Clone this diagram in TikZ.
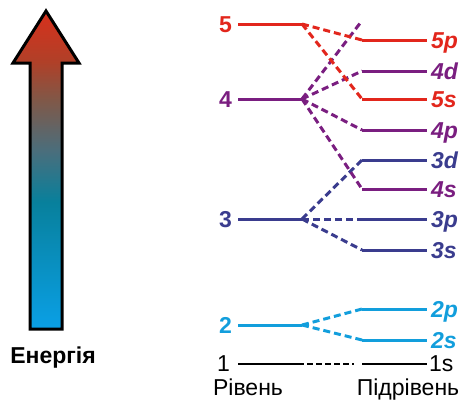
\documentclass[tikz,border=0pt]{standalone}
\usepackage{fontspec}
\setmainfont{Liberation Sans}
\definecolor{cred}{HTML}{E2261C}
\definecolor{cpur}{HTML}{7A1E80}
\definecolor{cdbl}{HTML}{3A3C8E}
\definecolor{clbl}{HTML}{129EDC}
\definecolor{ebot}{HTML}{0AA0E6}
\definecolor{eteal}{HTML}{08809C}
\definecolor{egrey}{HTML}{4A6E7C}
\definecolor{ebrown}{HTML}{805848}
\definecolor{ered2}{HTML}{B04028}
\definecolor{etop}{HTML}{D8301C}
\pgfdeclareverticalshading{energy}{100bp}{color(0bp)=(ebot); color(25bp)=(ebot); color(45bp)=(eteal); color(53bp)=(egrey); color(61bp)=(ebrown); color(67bp)=(ered2); color(75bp)=(etop); color(100bp)=(etop)}
\tikzset{
  lvl/.style={line width=3pt},
  conn/.style={line width=3pt, dash pattern=on 7pt off 4pt},
  lvllab/.style={anchor=base east, inner sep=0pt, font=\fontsize{23}{27}\selectfont\bfseries},
  sublab/.style={anchor=base west, inner sep=0pt, font=\fontsize{23}{27}\selectfont\bfseries\itshape},
  plainlab/.style={inner sep=0pt, font=\fontsize{23}{27}\selectfont},
}
\begin{document}
\begin{tikzpicture}[x=1pt,y=-1pt]
\useasboundingbox (0,0) rectangle (462,400);
% energy arrow
\shade[shading=energy] (46,11) -- (79,63) -- (62,63) -- (62,329) -- (30,329) -- (30,63) -- (13,63) -- cycle;
\draw[line width=3pt, miter limit=10] (46,11) -- (79,63) -- (62,63) -- (62,329) -- (30,329) -- (30,63) -- (13,63) -- cycle;
\node[plainlab, anchor=base, font=\fontsize{23}{27}\selectfont\bfseries] (energy) at (53,363) {Енергія};

% level coordinates
\foreach \n/\y in {5/24,4/99,3/219,2/325,1/364} {
  \coordinate (l\n a) at (238,\y);
  \coordinate (l\n b) at (302,\y);
}
\foreach \n/\y in {5p/40,4d/71,5s/99,4p/130,3d/160,4s/189,3p/219,3s/250,2p/309,2s/340,1s/364} {
  \coordinate (s\n a) at (362,\y);
  \coordinate (s\n b) at (427,\y);
}
\coordinate (s4f) at (361,22);

% level labels
\node[lvllab, text=cred] (n5) at (232,32) {5};
\node[lvllab, text=cpur] (n4) at (232,107) {4};
\node[lvllab, text=cdbl] (n3) at (232,227) {3};
\node[lvllab, text=clbl] (n2) at (232,333) {2};
\node[plainlab, anchor=base east] (n1) at (230,371) {1};

% sublevel labels
\node[sublab, text=cred] (t5p) at (431,48) {5p};
\node[sublab, text=cpur] (t4d) at (431,79) {4d};
\node[sublab, text=cred] (t5s) at (431,107) {5s};
\node[sublab, text=cpur] (t4p) at (431,138) {4p};
\node[sublab, text=cdbl] (t3d) at (431,168) {3d};
\node[sublab, text=cpur] (t4s) at (431,197) {4s};
\node[sublab, text=cdbl] (t3p) at (431,227) {3p};
\node[sublab, text=cdbl] (t3s) at (431,258) {3s};
\node[sublab, text=clbl] (t2p) at (431,317) {2p};
\node[sublab, text=clbl] (t2s) at (431,348) {2s};
\node[plainlab, anchor=base west] (t1s) at (429,371) {1s};

% level lines
\draw[lvl, cred] (l5a) -- (l5b);
\draw[lvl, cpur] (l4a) -- (l4b);
\draw[lvl, cdbl] (l3a) -- (l3b);
\draw[lvl, clbl] (l2a) -- (l2b);
\draw[line width=2pt, black] (l1a) -- (l1b);

% sublevel lines
\foreach \s/\c in {5p/cred,4d/cpur,5s/cred,4p/cpur,3d/cdbl,4s/cpur,3p/cdbl,3s/cdbl,2p/clbl,2s/clbl} {
  \draw[lvl, \c] (s\s a) -- (s\s b);
}
\draw[line width=2pt, black] (s1sa) -- (s1sb);

% connectors
\draw[conn, cdbl] (l3b) -- (s3da);
\draw[conn, cdbl] (l3b) -- (s3pa);
\draw[conn, cdbl] (l3b) -- (s3sa);
\draw[conn, cpur] (l4b) -- (s4f);
\draw[conn, cpur] (l4b) -- (s4da);
\draw[conn, cpur] (l4b) -- (s4pa);
\draw[conn, cpur] (l4b) -- (s4sa);
\draw[conn, cred] (l5b) -- (s5pa);
\draw[conn, cred] (l5b) -- (s5sa);
\draw[conn, clbl] (l2b) -- (s2pa);
\draw[conn, clbl] (l2b) -- (s2sa);
\draw[line width=2pt, black, dash pattern=on 2pt off 3pt on 6pt off 3pt on 6pt off 3pt on 6pt off 3pt on 6pt off 3pt on 6pt off 3pt on 2pt off 100pt] (l1b) -- (s1sa);

% axis captions
\node[plainlab, anchor=base] (cap1) at (248,395) {Рівень};
\node[plainlab, anchor=base] (cap2) at (408,395) {Підрівень};
\end{tikzpicture}
\end{document}
